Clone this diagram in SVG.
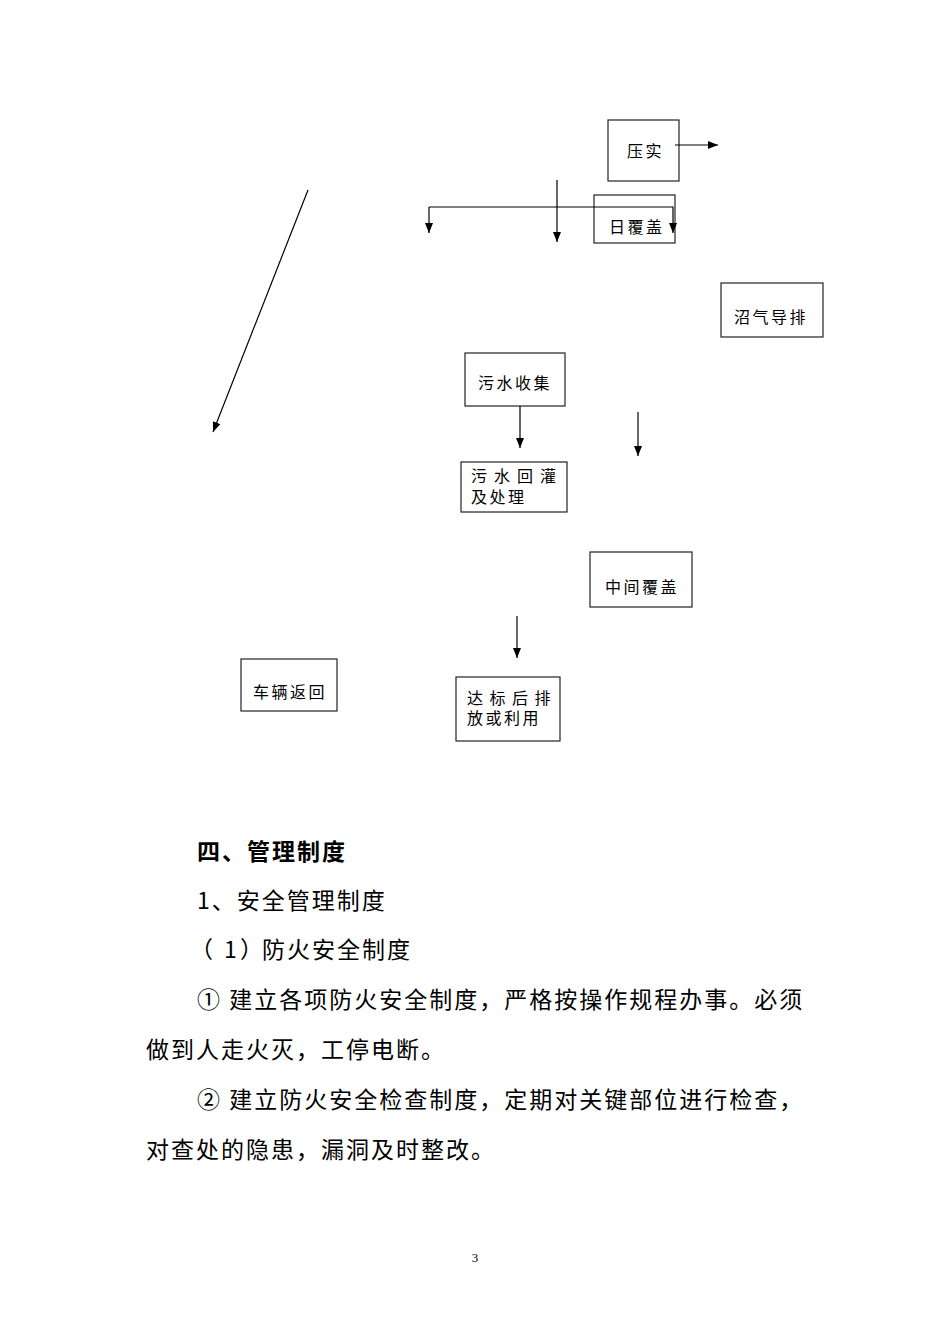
<svg xmlns="http://www.w3.org/2000/svg" width="950" height="1344" viewBox="0 0 950 1344">
<defs>
<marker id="ah" markerUnits="userSpaceOnUse" markerWidth="10" markerHeight="8" refX="10" refY="4" orient="auto">
<path d="M0,0 L10,4 L0,8 z" fill="#000"/>
</marker>
<style>
.box{fill:#fff;stroke:#222;stroke-width:1.2}
.bt{font-family:"Noto Sans CJK SC",sans-serif;font-size:16px;fill:#000;letter-spacing:2.5px}
.cn{fill:none;stroke:#000;stroke-width:1.2;marker-end:url(#ah)}
.body{font-family:"Noto Sans CJK SC",sans-serif;font-size:23px;fill:#000;letter-spacing:2px}
.h{font-weight:bold}
</style>
</defs>
<rect width="950" height="1344" fill="#fff"/>
<g id="n-yashi"><rect class="box" x="608" y="120" width="71" height="61"/><text class="bt" x="627" y="157">压实</text></g>
<g id="n-rifugai"><rect class="box" x="594" y="195" width="81" height="48"/><text class="bt" x="609" y="233">日覆盖</text></g>
<g id="n-zhaoqi"><rect class="box" x="721" y="283" width="102" height="54"/><text class="bt" x="734" y="323">沼气导排</text></g>
<g id="n-wushuishouji"><rect class="box" x="465" y="353" width="100" height="53"/><text class="bt" x="478" y="389">污水收集</text></g>
<g id="n-wushuihuiguan"><rect class="box" x="461" y="462" width="106" height="50"/><text class="bt"><tspan x="471" y="482" style="letter-spacing:7px">污水回灌</tspan><tspan x="471" y="503">及处理</tspan></text></g>
<g id="n-zhongjian"><rect class="box" x="590" y="552" width="102" height="55"/><text class="bt" x="605" y="593">中间覆盖</text></g>
<g id="n-cheliang"><rect class="box" x="241" y="659" width="96" height="52"/><text class="bt" x="253" y="698">车辆返回</text></g>
<g id="n-dabiao"><rect class="box" x="456" y="677" width="104" height="64"/><text class="bt"><tspan x="467" y="704" style="letter-spacing:6.5px">达标后排</tspan><tspan x="467" y="724">放或利用</tspan></text></g>
<g id="connectors">
<path class="cn" d="M675,145 H718"/>
<path class="cn" d="M557,180 V242"/>
<path class="cn" d="M429,207 V233"/>
<path class="cn" d="M429,207 H673 V233"/>
<path class="cn" d="M308,190 L213,432"/>
<path class="cn" d="M520,406 V448"/>
<path class="cn" d="M638,412 V456"/>
<path class="cn" d="M517,616 V658"/>
</g>
<g id="text">
<text class="body h" x="197" y="860">四、管理制度</text>
<text class="body" x="197" y="909">1、安全管理制度</text>
<text class="body" x="190 224 240 262 287 312 337 362 387" y="958" style="letter-spacing:0">（1）防火安全制度</text>
<text class="body" x="197" y="1008">① 建立各项防火安全制度，严格按操作规程办事。必须</text>
<text class="body" x="146" y="1058">做到人走火灭，工停电断。</text>
<text class="body" x="197" y="1108">② 建立防火安全检查制度，定期对关键部位进行检查，</text>
<text class="body" x="146" y="1158">对查处的隐患，漏洞及时整改。</text>
<text x="475" y="1262" text-anchor="middle" font-family="Liberation Serif, serif" font-size="13" fill="#000">3</text>
</g>
</svg>
